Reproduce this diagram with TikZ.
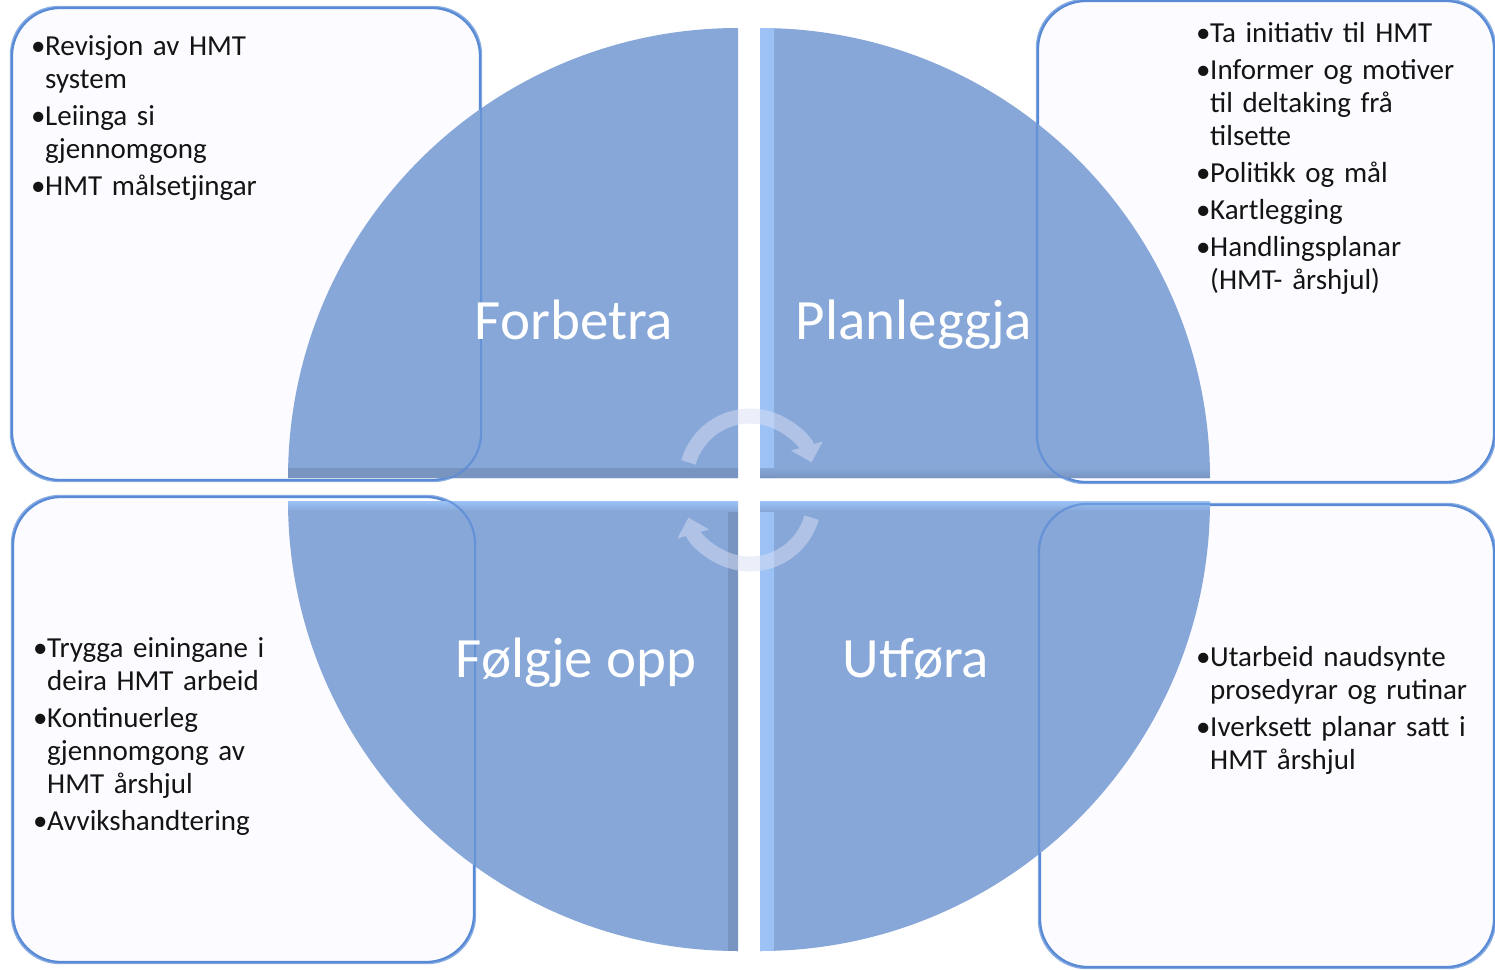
\documentclass[tikz,border=0pt]{standalone}
\usepackage{fontspec}
\setmainfont{Carlito}
\usepackage{tikz}
\usetikzlibrary{arrows.meta}

\definecolor{quadblue}{RGB}{134,167,216}
\definecolor{quadlight}{RGB}{156,194,246}
\definecolor{quaddark}{RGB}{120,148,192}
\definecolor{boxline}{RGB}{88,138,214}
\definecolor{boxfill}{RGB}{252,251,255}
\definecolor{cyclefill}{RGB}{218,224,244}
\definecolor{itemtext}{RGB}{20,20,20}

\newcommand{\hmtitem}[1]{\hangindent=14pt\hangafter=1\noindent\makebox[14pt][l]{•}#1\par}

\tikzset{
  hmtbox/.style={draw=boxline, line width=2.2pt, rounded corners=48pt, fill=boxfill},
  hmtedge/.style={draw=boxline, line width=2.2pt, rounded corners=48pt, opacity=0.7},
  quadtl/.style={fill=quadblue, path picture={
    \shade [top color=quadblue, bottom color=quaddark] ([yshift=10pt]path picture bounding box.south west) rectangle (path picture bounding box.south east);}},
  quadtr/.style={fill=quadblue, path picture={
    \shade [left color=quadlight, right color=quadblue] (path picture bounding box.north west) rectangle ([xshift=14pt]path picture bounding box.south west);
    \shade [top color=quadblue, bottom color=quaddark] ([yshift=10pt]path picture bounding box.south west) rectangle (path picture bounding box.south east);}},
  quadbl/.style={fill=quadblue, path picture={
    \shade [left color=quadblue, right color=quaddark] ([xshift=-10pt]path picture bounding box.north east) rectangle (path picture bounding box.south east);
    \shade [top color=quadlight, bottom color=quadblue] (path picture bounding box.north west) rectangle ([yshift=-10pt]path picture bounding box.north east);}},
  quadbr/.style={fill=quadblue, path picture={
    \shade [left color=quadlight, right color=quadblue] (path picture bounding box.north west) rectangle ([xshift=14pt]path picture bounding box.south west);
    \shade [top color=quadlight, bottom color=quadblue] (path picture bounding box.north west) rectangle ([yshift=-10pt]path picture bounding box.north east);}},
  quadlabel/.style={text=white, font=\fontsize{57}{68}\selectfont, anchor=base},
  itemlist/.style={text=itemtext, font=\fontsize{29}{33}\selectfont, text width=300pt, align=left, anchor=north west,
    execute at begin node={\setlength{\parskip}{4pt}}},
  cyclearrow/.style={line width=15pt, draw=cyclefill, -{Triangle[length=17pt,width=32pt]}}
}

\begin{document}
\begin{tikzpicture}[x=1pt,y=1pt]
\tikzstyle{every node}+=[inner sep=0pt]
\useasboundingbox (0,0) rectangle (1495,-969);
\fill [white] (0,0) rectangle (1495,-969);
\node [hmtbox, minimum width=468pt, minimum height=472pt] (boxtl) at (246,-244) {};
\node [hmtbox, minimum width=456pt, minimum height=481pt] (boxtr) at (1266,-241.5) {};
\node [hmtbox, minimum width=461pt, minimum height=465pt] (boxbl) at (243.5,-729.5) {};
\node [hmtbox, minimum width=454pt, minimum height=462pt] (boxbr) at (1267,-736) {};
\fill [quadtl] (738,-478) -- ++(-450,0) arc (180:90:450) -- cycle;
\fill [quadtr] (760,-478) -- ++(0,450) arc (90:0:450) -- cycle;
\fill [quadbl] (738,-501) -- ++(0,-450) arc (270:180:450) -- cycle;
\fill [quadbr] (760,-501) -- ++(450,0) arc (0:-90:450) -- cycle;
\draw [hmtedge] (boxtl.south west) rectangle (boxtl.north east);
\draw [hmtedge] (boxtr.south west) rectangle (boxtr.north east);
\draw [hmtedge] (boxbl.south west) rectangle (boxbl.north east);
\draw [hmtedge] (boxbr.south west) rectangle (boxbr.north east);
\begin{scope}[transparency group, opacity=0.5]
\draw [cyclearrow] ([shift={(164:64)}]750,-480) arc (164:16:64);
\draw [cyclearrow] ([shift={(-16:64)}]750,-500) arc (-16:-164:64);
\end{scope}
\node [quadlabel] (forbetra) at (574,-339) {Forbetra};
\node [quadlabel] (planleggja) at (914,-339) {Planleggja};
\node [quadlabel] (folgje) at (576,-677) {Følgje opp};
\node [quadlabel] (utfora) at (916,-677) {Utføra};
\node [itemlist] (listtl) at (31,-35) {\hmtitem{Revisjon av HMT\newline system}\hmtitem{Leiinga si\newline gjennomgong}\hmtitem{HMT målsetjingar}};
\node [itemlist] (listtr) at (1196,-22) {\hmtitem{Ta initiativ til HMT}\hmtitem{Informer og motiver\newline til deltaking frå\newline tilsette}\hmtitem{Politikk og mål}\hmtitem{Kartlegging}\hmtitem{Handlingsplanar\newline (HMT- årshjul)}};
\node [itemlist] (listbl) at (33,-637) {\hmtitem{Trygga einingane i\newline deira HMT arbeid}\hmtitem{Kontinuerleg\newline gjennomgong av\newline HMT årshjul}\hmtitem{Avvikshandtering}};
\node [itemlist] (listbr) at (1196,-646) {\hmtitem{Utarbeid naudsynte\newline prosedyrar og rutinar}\hmtitem{Iverksett planar satt i\newline HMT årshjul}};
\end{tikzpicture}
\end{document}
